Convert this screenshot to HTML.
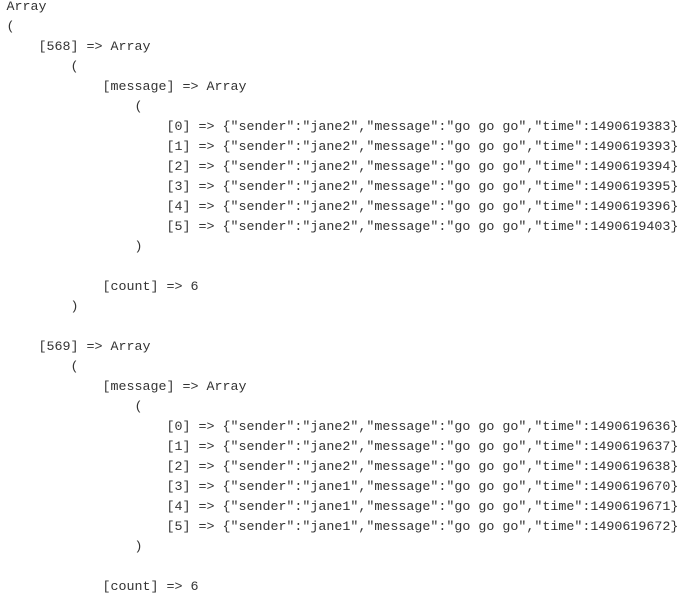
<!DOCTYPE html>
<html>
<head>
<meta charset="utf-8">
<style>
html,body{margin:0;padding:0;background:#fff;width:688px;height:598px;overflow:hidden}
pre{position:absolute;left:6.5px;top:-2px;margin:0;font-family:"Liberation Mono",monospace;font-size:13.33px;line-height:20px;color:#333}
</style>
</head>
<body>
<pre>Array
(
    [568] =&gt; Array
        (
            [message] =&gt; Array
                (
                    [0] =&gt; {"sender":"jane2","message":"go go go","time":1490619383}
                    [1] =&gt; {"sender":"jane2","message":"go go go","time":1490619393}
                    [2] =&gt; {"sender":"jane2","message":"go go go","time":1490619394}
                    [3] =&gt; {"sender":"jane2","message":"go go go","time":1490619395}
                    [4] =&gt; {"sender":"jane2","message":"go go go","time":1490619396}
                    [5] =&gt; {"sender":"jane2","message":"go go go","time":1490619403}
                )

            [count] =&gt; 6
        )

    [569] =&gt; Array
        (
            [message] =&gt; Array
                (
                    [0] =&gt; {"sender":"jane2","message":"go go go","time":1490619636}
                    [1] =&gt; {"sender":"jane2","message":"go go go","time":1490619637}
                    [2] =&gt; {"sender":"jane2","message":"go go go","time":1490619638}
                    [3] =&gt; {"sender":"jane1","message":"go go go","time":1490619670}
                    [4] =&gt; {"sender":"jane1","message":"go go go","time":1490619671}
                    [5] =&gt; {"sender":"jane1","message":"go go go","time":1490619672}
                )

            [count] =&gt; 6
</pre>
</body>
</html>
